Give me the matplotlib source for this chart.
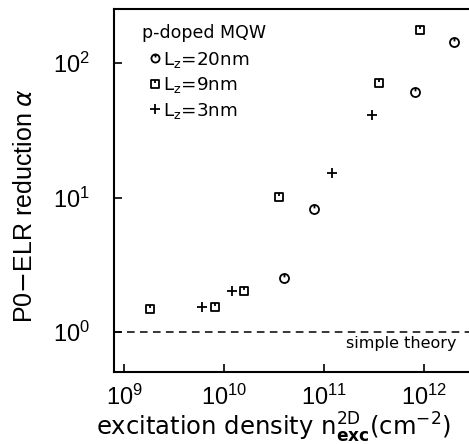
import matplotlib
matplotlib.use('Agg')
import matplotlib.pyplot as plt
from matplotlib.path import Path
from matplotlib.ticker import LogLocator, NullLocator
import numpy as np

plt.rcParams['font.family'] = ['Liberation Sans', 'DejaVu Sans']
plt.rcParams['mathtext.fontset'] = 'dejavusans'

# ---- data ----
n_20nm = [4.0e10, 7.9e10, 8.0e11, 2.0e12]
a_20nm = [2.5, 8.2, 61, 143]

n_9nm = [1.8e9, 8.2e9, 1.57e10, 3.5e10, 3.56e11, 9.0e11]
a_9nm = [1.49, 1.52, 2.02, 10.1, 71, 177]

n_3nm = [6.0e9, 1.19e10, 1.19e11, 3.0e11]
a_3nm = [1.52, 2.02, 15.3, 41]

labels = ['L$_\\mathregular{z}$=20nm', 'L$_\\mathregular{z}$=9nm', 'L$_\\mathregular{z}$=3nm']
simple_theory = 1.0

# ---- marker shapes: open circle / square with a short tick from the top ----
tick = Path([[0, 1], [0, 0.25]], [Path.MOVETO, Path.LINETO])
circ_mark = Path.make_compound_path(Path.unit_circle(), tick)
sq = Path([[-1, -1], [1, -1], [1, 1], [-1, 1], [-1, -1]],
          [Path.MOVETO, Path.LINETO, Path.LINETO, Path.LINETO, Path.CLOSEPOLY])
sq_mark = Path.make_compound_path(sq, tick)

fig = plt.figure(figsize=(4.69, 4.44), dpi=100)
ax = fig.add_axes([0.243, 0.162, 0.76, 0.818])

ax.set_xscale('log')
ax.set_yscale('log')
ax.set_xlim(10**8.9, 10**12.46)
ax.set_ylim(10**-0.30, 10**2.405)

style = dict(ls='none', color='black', mfc='none', mew=1.3)
ax.plot(n_20nm, a_20nm, marker=circ_mark, ms=6.5, label=labels[0], **style)
ax.plot(n_9nm, a_9nm, marker=sq_mark, ms=6.2, label=labels[1], **style)
ax.plot(n_3nm, a_3nm, marker='+', ms=7.5, label=labels[2], **style)

ax.axhline(simple_theory, color='black', lw=1.1, ls=(0, (5, 3.5)))
ax.text(0.962, 0.08, 'simple theory', transform=ax.transAxes, ha='right', va='center',
        fontsize=11.5, family='DejaVu Sans')

# legend: title sits left of the indented marker column
ax.text(0.079, 0.934, 'p-doped MQW', transform=ax.transAxes, ha='left', va='center',
        fontsize=12.5, family='DejaVu Sans')
ax.legend(loc='upper left', bbox_to_anchor=(0.099, 0.888), frameon=False,
          handlelength=0.6, handletextpad=0.15, markerscale=0.9,
          labelspacing=0.3, borderpad=0, borderaxespad=0,
          prop={'family': 'DejaVu Sans', 'size': 13.2})

ax.xaxis.set_major_locator(LogLocator(base=10, numticks=10))
ax.yaxis.set_major_locator(LogLocator(base=10, numticks=10))
ax.xaxis.set_minor_locator(NullLocator())
ax.yaxis.set_minor_locator(NullLocator())
ax.tick_params(which='major', direction='in', length=6, width=1.2, labelsize=17)
ax.tick_params(axis='x', pad=9)
ax.tick_params(axis='y', pad=17)
ax.spines['right'].set_visible(False)
for s in ('left', 'bottom', 'top'):
    ax.spines[s].set_linewidth(1.5)

ax.set_xlabel('excitation density n$^{\\mathregular{2D}}_{\\mathbf{exc}}$(cm$^{-2}$)',
              fontsize=17.5, family='DejaVu Sans')
ax.xaxis.set_label_coords(0.449, -0.108)
ax.set_ylabel('P0$-$ELR reduction $\\alpha$', fontsize=18)
ax.yaxis.set_label_coords(-0.216, 0.46)

fig.savefig('out.png', dpi=100)
